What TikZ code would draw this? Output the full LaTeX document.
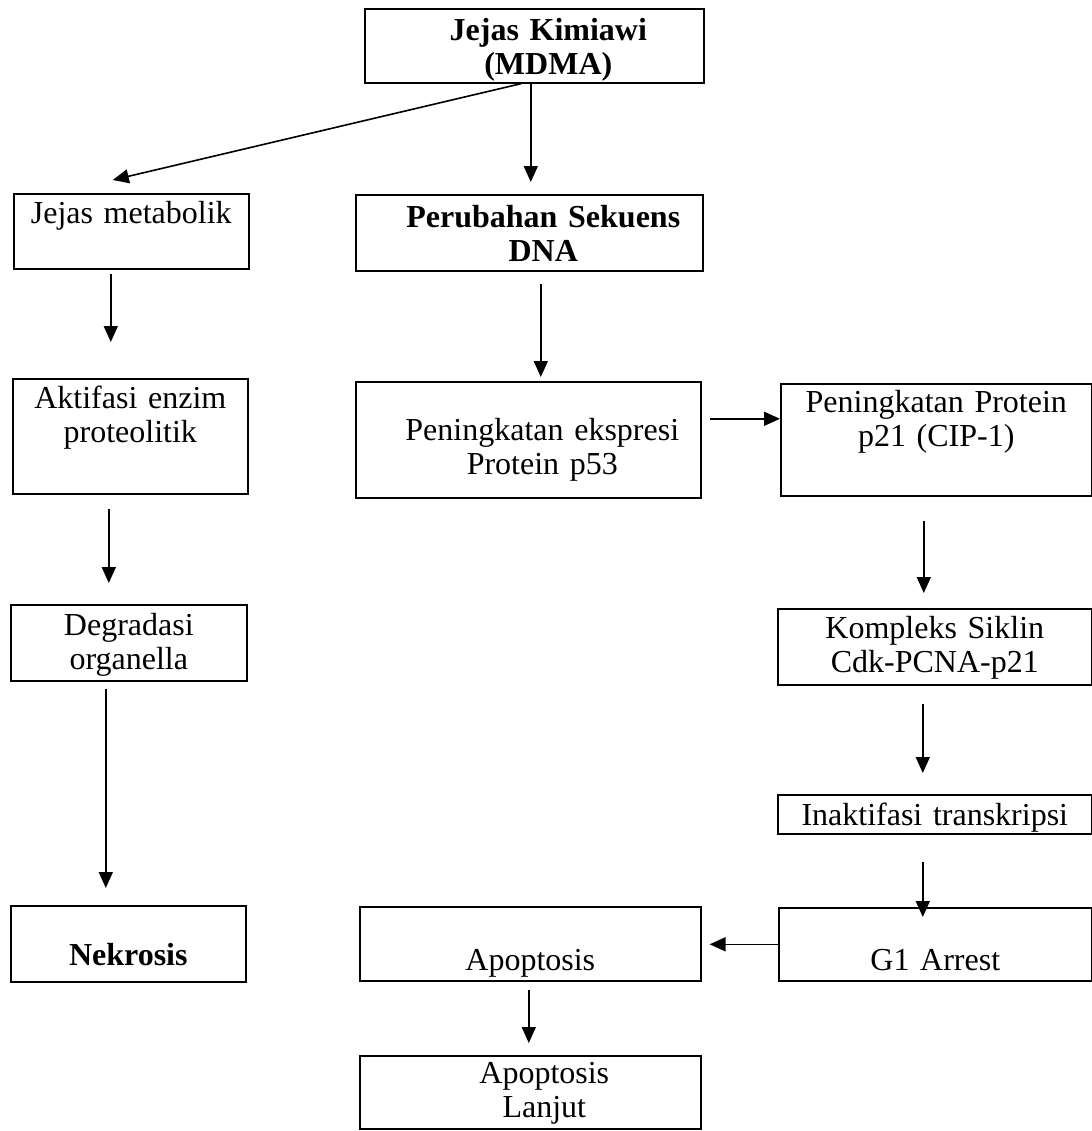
\documentclass[tikz,border=0pt]{standalone}
\usepackage{fontspec}
\setmainfont{Liberation Serif}
\usetikzlibrary{arrows.meta}
\newcommand{\ind}{\hspace*{14pt}}

\begin{document}
\begin{tikzpicture}[x=0.5pt, y=-0.5pt,
  box/.style={draw, line width=0.8pt, inner sep=0pt, align=center, anchor=north west,
    font=\fontsize{16}{17}\selectfont},
  arr/.style={line width=0.8pt, -{Triangle[length=8pt,width=7pt]}}]
\useasboundingbox (0,0) rectangle (1092,1131);
% kolom kiri
\node[box, text width=117.5pt, text height=15pt, text depth=22.5pt] (meta) at (13,193) {Jejas metabolik};
\node[box, text width=117.5pt, text height=15pt, text depth=42.5pt] (aktif) at (12,378) {Aktifasi enzim\\proteolitik};
\node[box, text width=118pt, text height=15.5pt, text depth=22.5pt] (degr) at (10,604) {Degradasi\\organella};
\node[box, text width=117.5pt, text height=30pt, text depth=8pt] (nekro) at (10,905) {\textbf{Nekrosis}};
% kolom tengah
\node[box, text width=169.5pt, text height=16pt, text depth=21pt] (kimia) at (364,8) {\ind\textbf{Jejas Kimiawi}\\\ind\textbf{(MDMA)}};
\node[box, text width=173.5pt, text height=16.5pt, text depth=21.5pt] (dna) at (355,194) {\ind\textbf{Perubahan Sekuens}\\\ind\textbf{DNA}};
\node[box, text width=172.5pt, text height=29.5pt, text depth=28.5pt] (p53) at (355,381) {\ind Peningkatan ekspresi\\\ind Protein p53};
\node[box, text width=170.5pt, text height=32pt, text depth=5pt] (apop) at (359,906) {Apoptosis};
\node[box, text width=170.5pt, text height=14pt, text depth=22.5pt] (lanjut) at (359,1055) {\ind Apoptosis\\\ind Lanjut};
% kolom kanan
\node[box, text width=155.5pt, text height=14.5pt, text depth=41.5pt] (p21) at (780,383) {Peningkatan Protein\\p21 (CIP-1)};
\node[box, text width=157pt, text height=15pt, text depth=23pt] (komp) at (777,608) {Kompleks Siklin\\Cdk-PCNA-p21};
\node[box, text width=157pt, text height=15.5pt, text depth=4pt] (inakt) at (777,794) {Inaktifasi transkripsi};
\node[box, text width=156.5pt, text height=31.5pt, text depth=5pt] (g1) at (778,907) {G1 Arrest};

\draw[arr] ([xshift=-6.5pt]kimia.south) -- ([xshift=-9.25pt,yshift=6.5pt]meta.north);
\draw[arr] ([xshift=-1.75pt]kimia.south) -- ([xshift=-1.75pt,yshift=6pt]kimia.south |- dna.north);
\draw[arr] ([xshift=-10.25pt,yshift=-2pt]meta.south) -- ([xshift=-9.75pt,yshift=18pt]aktif.north);
\draw[arr] ([xshift=-10.75pt,yshift=-7pt]aktif.south) -- ([xshift=-10pt,yshift=10.5pt]degr.north);
\draw[arr] ([xshift=-11.5pt,yshift=-3.5pt]degr.south) -- ([xshift=-11.25pt,yshift=8.5pt]nekro.north);
\draw[arr] ([xshift=5.75pt,yshift=-6pt]dna.south) -- ([xshift=6.25pt,yshift=2pt]p53.north);
\draw[arr] ([xshift=4pt,yshift=10.5pt]p53.east) -- ([yshift=10.5pt]p21.west);
\draw[arr] ([xshift=-6.25pt,yshift=-12pt]p21.south) -- ([xshift=-5.5pt,yshift=7.5pt]komp.north);
\draw[arr] ([xshift=-6pt,yshift=-9pt]komp.south) -- ([xshift=-6pt,yshift=10.5pt]inakt.north);
\draw[arr] ([xshift=-6pt,yshift=-13.5pt]inakt.south) -- ([xshift=-6.25pt,yshift=-5pt]g1.north);
\draw[arr] (g1.west) -- ([xshift=4pt]g1.west -| apop.east);
\draw[arr] ([xshift=-0.75pt,yshift=-4pt]apop.south) -- ([xshift=-0.75pt,yshift=6pt]lanjut.north);
\end{tikzpicture}
\end{document}
